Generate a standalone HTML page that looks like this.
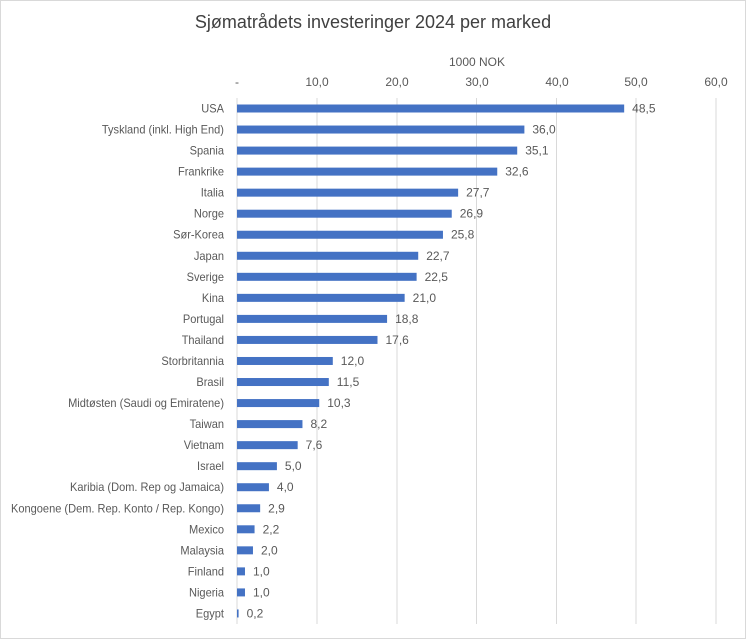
<!DOCTYPE html>
<html><head><meta charset="utf-8"><style>
html,body{margin:0;padding:0;background:#fff}
svg{display:block}
text{font-family:"Liberation Sans",sans-serif;fill:#595959}
</style></head><body>
<svg width="746" height="639" viewBox="0 0 746 639">
<rect x="0.5" y="0.5" width="745" height="638" fill="#fff" stroke="#d9d9d9"/>
<text x="373" y="28" text-anchor="middle" font-size="18" style="fill:#404040">Sjømatrådets investeringer 2024 per marked</text>
<text x="477" y="66" text-anchor="middle" font-size="12">1000 NOK</text>
<g stroke="#d9d9d9" stroke-width="1">
<line x1="237" y1="98" x2="237" y2="624"/>
<line x1="317" y1="98" x2="317" y2="624"/>
<line x1="397" y1="98" x2="397" y2="624"/>
<line x1="476.5" y1="98" x2="476.5" y2="624"/>
<line x1="556.5" y1="98" x2="556.5" y2="624"/>
<line x1="636" y1="98" x2="636" y2="624"/>
<line x1="716" y1="98" x2="716" y2="624"/>
</g>
<g font-size="12" text-anchor="middle">
<text x="237" y="86">-</text><text x="317" y="86">10,0</text><text x="397" y="86">20,0</text><text x="477" y="86">30,0</text><text x="557" y="86">40,0</text><text x="636" y="86">50,0</text><text x="716" y="86">60,0</text>
</g>
<g id="bars" font-size="12"></g>
</svg>
<script>
var d=[["USA",48.5],["Tyskland (inkl. High End)",36.0],["Spania",35.1],["Frankrike",32.6],["Italia",27.7],["Norge",26.9],["Sør-Korea",25.8],["Japan",22.7],["Sverige",22.5],["Kina",21.0],["Portugal",18.8],["Thailand",17.6],["Storbritannia",12.0],["Brasil",11.5],["Midtøsten (Saudi og Emiratene)",10.3],["Taiwan",8.2],["Vietnam",7.6],["Israel",5.0],["Karibia (Dom. Rep og Jamaica)",4.0],["Kongoene (Dem. Rep. Konto / Rep. Kongo)",2.9],["Mexico",2.2],["Malaysia",2.0],["Finland",1.0],["Nigeria",1.0],["Egypt",0.2]];
var g=document.getElementById('bars'),s="";
d.forEach(function(r,i){var y=108.5+i*21.04,w=r[1]*7.983;
s+='<text class="lab" x="224" y="'+(y+4)+'" text-anchor="end">'+r[0]+'</text>';
s+='<rect x="237" y="'+(y-4)+'" width="'+w+'" height="8" fill="#4472c4"/>';
s+='<text x="'+(237+w+8)+'" y="'+(y+4)+'">'+r[1].toFixed(1).replace('.',',')+'</text>';});
g.innerHTML=s;
var ls=document.querySelectorAll('.lab');
for(var k=0;k<ls.length;k++){var t=ls[k],L=t.getComputedTextLength();t.setAttribute('textLength',(L*0.92).toFixed(1));t.setAttribute('lengthAdjust','spacingAndGlyphs');}
</script>
</body></html>
